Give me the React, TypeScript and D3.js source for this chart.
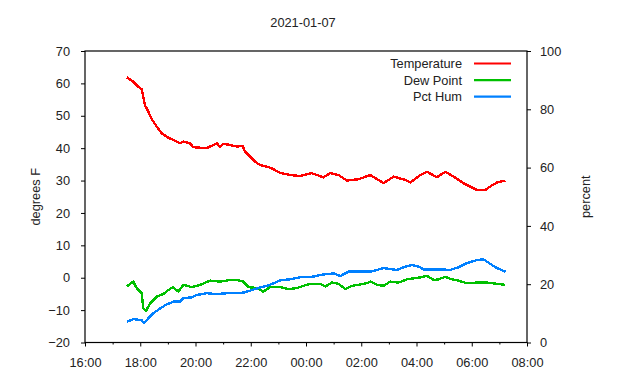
import React, { useEffect, useRef } from 'react';
import * as d3 from 'd3';

// clock hours (values past 24 are the next morning)
const tempHours = [17.51, 17.75, 17.93, 18.05, 18.11, 18.17, 18.29, 18.42, 18.6, 18.78, 18.96, 19.2, 19.44, 19.56, 19.8, 19.92, 20.4, 20.65, 20.77, 20.89, 21.0, 21.25, 21.5, 21.7, 21.8, 21.98, 22.16, 22.34, 22.58, 22.76, 23.0, 23.07, 23.43, 23.79, 24.2, 24.63, 24.88, 25.18, 25.48, 25.9, 26.33, 26.81, 27.17, 27.6, 27.78, 28.14, 28.38, 28.74, 29.04, 29.35, 29.7, 29.95, 30.19, 30.49, 30.74, 30.92, 31.22];
const tempValues = [61.9, 60.5, 59.0, 58.2, 55.9, 53.3, 51.3, 48.9, 46.6, 44.6, 43.5, 42.5, 41.5, 42.0, 41.5, 40.3, 40.0, 41.0, 41.5, 40.3, 41.3, 41.0, 40.5, 40.7, 38.9, 37.4, 35.8, 34.8, 34.3, 33.8, 32.6, 32.4, 31.7, 31.4, 32.3, 31.0, 32.3, 31.7, 30.0, 30.4, 31.7, 29.2, 31.2, 30.2, 29.4, 31.7, 32.7, 31.0, 32.7, 31.2, 29.2, 28.1, 27.1, 27.1, 28.6, 29.4, 30.0];

const dewHours = [17.51, 17.75, 17.87, 18.05, 18.11, 18.21, 18.36, 18.6, 18.84, 19.02, 19.18, 19.38, 19.56, 19.86, 20.17, 20.53, 20.89, 21.25, 21.5, 21.73, 21.92, 22.22, 22.46, 22.7, 23.07, 23.37, 23.67, 23.91, 24.15, 24.51, 24.7, 24.94, 25.18, 25.42, 25.66, 25.9, 26.2, 26.33, 26.57, 26.81, 27.05, 27.35, 27.66, 27.9, 28.14, 28.38, 28.62, 28.8, 29.04, 29.28, 29.52, 29.82, 30.19, 30.55, 30.92, 31.22];
const dewValues = [-2.7, -1.2, -3.2, -4.8, -9.4, -10.2, -7.9, -5.8, -5.0, -3.8, -2.9, -4.3, -2.2, -2.9, -2.2, -0.9, -1.2, -0.7, -0.7, -1.2, -2.9, -3.2, -4.3, -2.9, -2.9, -3.5, -3.2, -2.5, -1.9, -1.9, -2.7, -1.5, -1.9, -3.5, -2.5, -2.2, -1.7, -1.2, -2.2, -2.5, -1.2, -1.5, -0.5, -0.2, 0.1, 0.6, -0.7, -0.5, 0.3, -0.5, -0.9, -1.7, -1.5, -1.5, -1.9, -2.2];

const humHours = [17.51, 17.75, 18.05, 18.14, 18.29, 18.47, 18.72, 18.96, 19.2, 19.44, 19.56, 19.86, 20.05, 20.41, 20.77, 21.13, 21.73, 21.98, 22.34, 22.58, 22.82, 23.07, 23.43, 23.79, 24.27, 24.51, 25.0, 25.24, 25.54, 25.96, 26.33, 26.57, 26.81, 27.29, 27.53, 27.84, 28.08, 28.26, 28.74, 29.22, 29.52, 29.82, 30.19, 30.43, 30.68, 30.92, 31.22];
const humValues = [7.1, 8.0, 7.7, 6.6, 8.3, 10.0, 11.7, 13.1, 14.0, 14.0, 15.2, 15.5, 16.3, 16.9, 16.6, 16.9, 17.1, 17.8, 18.9, 19.4, 20.3, 21.3, 21.7, 22.4, 22.6, 23.2, 23.7, 22.8, 24.3, 24.3, 24.3, 24.9, 25.5, 24.9, 25.8, 26.6, 26.0, 25.1, 25.1, 24.9, 25.8, 27.2, 28.3, 28.5, 26.9, 25.5, 24.3];

const legendNames = ['Temperature', 'Dew Point', 'Pct Hum'];
const seriesColors = ['#ff0000', '#00c000', '#0080ff'];

const App = () => {
    const ref = useRef<SVGSVGElement>(null);

    useEffect(() => {
        const svg = d3.select(ref.current);
        svg.selectAll('*').remove();
        const left = 85, right = 527, top = 51, bottom = 342.5;
        const font = 'Liberation Sans, Arial, sans-serif';
        const fs = 12.8;

        const x = d3.scaleLinear().domain([16, 32]).range([left, right]);
        const yL = d3.scaleLinear().domain([-20, 70]).range([bottom, top]);
        const yR = d3.scaleLinear().domain([0, 100]).range([bottom, top]);
        const fmt = (h: number) => `${String(h % 24).padStart(2, '0')}:00`;

        const axisStyle = (g: any) => {
            g.select('.domain').remove();
            g.selectAll('line').attr('stroke', '#000');
            g.selectAll('text').attr('font-family', font).attr('font-size', fs).attr('fill', '#222');
        };

        // minor x ticks
        svg.append('g').attr('transform', `translate(0,${bottom})`)
            .call(d3.axisBottom(x).tickValues(d3.range(17, 32, 2)).tickSize(2).tickFormat(() => ''))
            .call(axisStyle);
        svg.append('g').attr('transform', `translate(0,${bottom})`)
            .call(d3.axisBottom(x).tickValues(d3.range(16, 33, 2)).tickSize(4).tickPadding(11).tickFormat((d: any) => fmt(d)))
            .call(axisStyle);
        svg.append('g').attr('transform', `translate(${left},0)`)
            .call(d3.axisLeft(yL).tickValues(d3.range(-20, 71, 10)).tickSize(4).tickPadding(11))
            .call(axisStyle);
        svg.append('g').attr('transform', `translate(${right},0)`)
            .call(d3.axisRight(yR).tickValues(d3.range(0, 101, 20)).tickSize(4).tickPadding(9))
            .call(axisStyle);

        svg.append('rect').attr('x', left).attr('y', top)
            .attr('width', right - left).attr('height', bottom - top)
            .attr('fill', 'none').attr('stroke', '#000').attr('stroke-width', 1.2);

        const series = [
            { hours: tempHours, values: tempValues, y: yL },
            { hours: dewHours, values: dewValues, y: yL },
            { hours: humHours, values: humValues, y: yR },
        ];
        series.forEach((s, i) => {
            const line = d3.line<number>().x((_, j) => x(s.hours[j])).y((v) => s.y(v));
            svg.append('path').attr('d', line(s.values))
                .attr('fill', 'none').attr('stroke', seriesColors[i]).attr('stroke-width', 2.4)
                .attr('stroke-linejoin', 'round').attr('shape-rendering', 'crispEdges');
        });

        // legend
        legendNames.forEach((name, i) => {
            const ly = 63.5 + i * 16.6;
            svg.append('text').attr('x', 462).attr('y', ly + 4.5).attr('text-anchor', 'end')
                .attr('font-family', font).attr('font-size', fs).attr('fill', '#222').text(name);
            svg.append('line').attr('x1', 474).attr('x2', 511).attr('y1', ly).attr('y2', ly)
                .attr('stroke', seriesColors[i]).attr('stroke-width', 2.2);
        });

        svg.append('text').attr('x', 303).attr('y', 27).attr('text-anchor', 'middle')
            .attr('font-family', font).attr('font-size', fs).attr('fill', '#222').text('2021-01-07');
        svg.append('text').attr('transform', `translate(40,${(top + bottom) / 2}) rotate(-90)`)
            .attr('text-anchor', 'middle').attr('font-family', font).attr('font-size', fs)
            .attr('fill', '#222').text('degrees F');
        svg.append('text').attr('transform', `translate(590,${(top + bottom) / 2}) rotate(-90)`)
            .attr('text-anchor', 'middle').attr('font-family', font).attr('font-size', fs)
            .attr('fill', '#222').text('percent');
    }, []);

    return (
        <svg ref={ref} width={640} height={380}
            style={{ position: 'absolute', left: 0, top: 0, background: '#fff' }} />
    );
};

export default App;
